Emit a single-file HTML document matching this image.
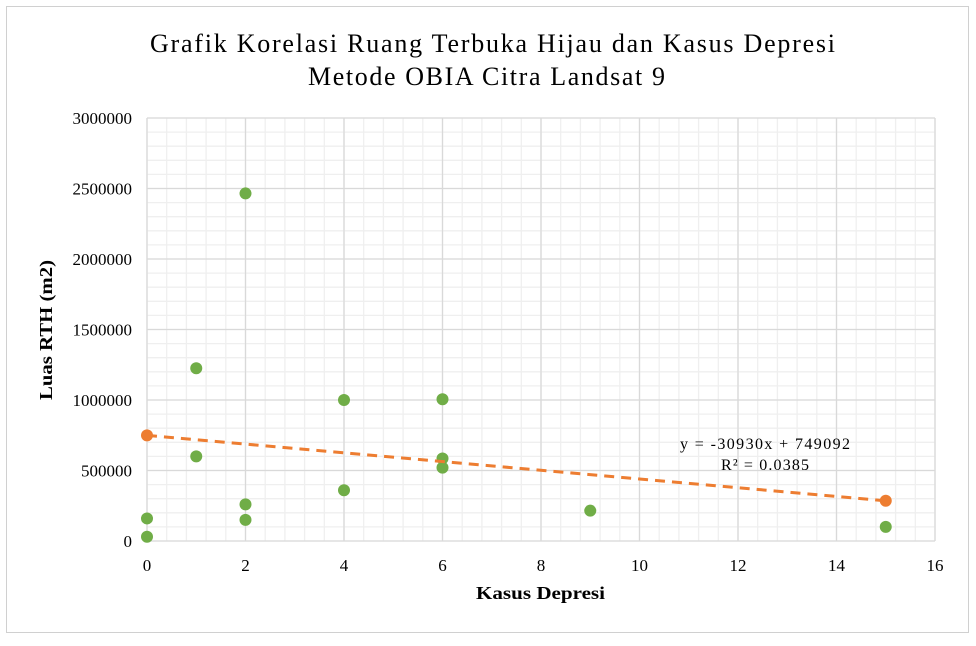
<!DOCTYPE html>
<html><head><meta charset="utf-8"><style>
body{margin:0;background:#fff;}
svg text{font-family:"Liberation Serif",serif;}
</style></head><body>
<svg width="976" height="641" xmlns="http://www.w3.org/2000/svg">
<rect x="6.5" y="6.5" width="962" height="626" fill="#fff" stroke="#d0d0d0"/>
<text x="150" y="52" font-size="26" textLength="685" lengthAdjust="spacing">Grafik Korelasi Ruang Terbuka Hijau dan Kasus Depresi</text>
<text x="308" y="85" font-size="26" textLength="357" lengthAdjust="spacing">Metode OBIA Citra Landsat 9</text>
<g id="grid"></g><g id="axes"></g><g id="marks"></g>
<text x="476" y="599" font-size="18" font-weight="bold" textLength="129" lengthAdjust="spacingAndGlyphs">Kasus Depresi</text>
<text transform="translate(52,400) rotate(-90)" font-size="18" font-weight="bold" textLength="140" lengthAdjust="spacingAndGlyphs">Luas RTH (m2)</text>
<text x="680" y="449" font-size="16" textLength="170" lengthAdjust="spacing">y = -30930x + 749092</text>
<text x="721" y="470" font-size="16" textLength="88" lengthAdjust="spacing">R² = 0.0385</text>
</svg>
<script>
const xs=[0,0,1,1,2,2,2,4,4,6,6,6,9,15];
const ys=[160000,30000,1225000,600000,2465000,260000,150000,1000000,360000,1005000,585000,520000,215000,100000];
const xTicks=[0,2,4,6,8,10,12,14,16];
const yTicks=[0,500000,1000000,1500000,2000000,2500000,3000000];
const slope=-30930, intercept=749092;
const trendX=[0,15];
const X0=147,X1=935,Y0=541,Y1=118;
const sx=v=>X0+(v-0)/(16-0)*(X1-X0);
const sy=v=>Y0-(v/3000000)*(Y0-Y1);
const NS="http://www.w3.org/2000/svg";
function mk(t,a,p){const e=document.createElementNS(NS,t);for(const k in a)e.setAttribute(k,a[k]);p.appendChild(e);return e;}
const grid=document.getElementById('grid'),axes=document.getElementById('axes'),marks=document.getElementById('marks');
for(let v=0;v<=16.001;v+=0.4){const e=mk('line',{x1:sx(v),x2:sx(v),y1:Y1,y2:Y0,stroke:'#efefef','stroke-width':1.3},grid);

}
for(let v=0;v<=3000000;v+=100000){const e=mk('line',{x1:X0,x2:X1,y1:sy(v),y2:sy(v),stroke:'#efefef','stroke-width':1.3},grid);

}
xTicks.forEach(v=>{const e=mk('line',{x1:sx(v),x2:sx(v),y1:Y1,y2:Y0,stroke:'#d9d9d9','stroke-width':1.3},grid);


const t=mk('text',{x:sx(v),y:Y0+30,'font-size':17,'text-anchor':'middle'},axes);t.textContent=v;

});
yTicks.forEach(v=>{const e=mk('line',{x1:X0,x2:X1,y1:sy(v),y2:sy(v),stroke:'#d9d9d9','stroke-width':1.3},grid);


const t=mk('text',{x:X0-15,y:sy(v)+6,'font-size':17,'text-anchor':'end'},axes);t.textContent=v;

});
xs.forEach((x,i)=>{const c=mk('circle',{cx:sx(x),cy:sy(ys[i]),r:6,fill:'#70ad47'},marks);

});
const tl=mk('line',{x1:sx(trendX[0]),y1:sy(intercept+slope*trendX[0]),x2:sx(trendX[1]),y2:sy(intercept+slope*trendX[1]),stroke:'#ed7d31','stroke-width':3,'stroke-dasharray':'10,7'},marks);


trendX.forEach(x=>{const c=mk('circle',{cx:sx(x),cy:sy(intercept+slope*x),r:6,fill:'#ed7d31'},marks);

});
</script>
</body></html>
